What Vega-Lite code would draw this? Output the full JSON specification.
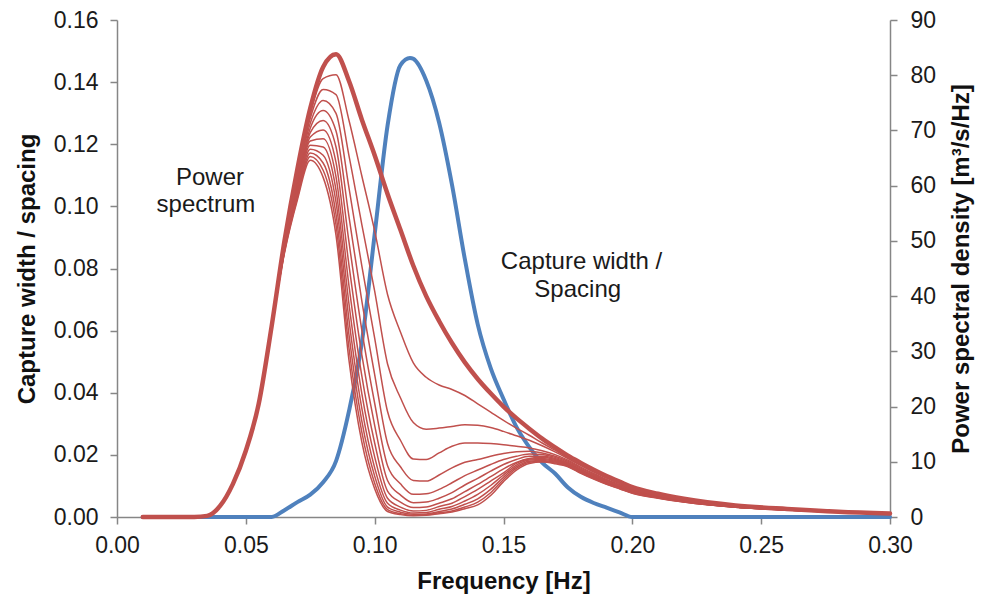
{
  "$schema": "https://vega.github.io/schema/vega-lite/v6.json",
  "width": 773,
  "height": 497,
  "autosize": "none",
  "padding": {"left": 117, "top": 20, "right": 101, "bottom": 81},
  "background": "white",
  "config": {
    "view": {"stroke": null},
    "font": "Liberation Sans",
    "axis": {
      "grid": false,
      "labelFlush": false,
      "domainColor": "#868686",
      "tickColor": "#868686",
      "domainWidth": 1.5,
      "tickWidth": 1.5,
      "tickSize": 7,
      "labelFont": "Liberation Sans",
      "labelFontSize": 23,
      "labelColor": "#1a1a1a",
      "titleFont": "Liberation Sans",
      "titleFontSize": 24,
      "titleFontWeight": "bold",
      "titleColor": "#111111"
    }
  },
  "datasets": {
    "cw": [
      {"f":0.01,"c":0},{"f":0.02,"c":0},{"f":0.03,"c":0},{"f":0.04,"c":0},{"f":0.05,"c":0},{"f":0.06,"c":0},
      {"f":0.065,"c":0.0022},{"f":0.07,"c":0.0048},{"f":0.075,"c":0.0072},{"f":0.08,"c":0.0112},{"f":0.085,"c":0.018},
      {"f":0.09,"c":0.034},{"f":0.095,"c":0.056},{"f":0.1,"c":0.091},{"f":0.105,"c":0.126},{"f":0.11,"c":0.1455},
      {"f":0.1137,"c":0.1478},{"f":0.115,"c":0.1475},{"f":0.12,"c":0.1405},{"f":0.125,"c":0.127},{"f":0.13,"c":0.107},
      {"f":0.135,"c":0.083},{"f":0.14,"c":0.062},{"f":0.145,"c":0.048},{"f":0.15,"c":0.038},{"f":0.155,"c":0.029},
      {"f":0.16,"c":0.0225},{"f":0.165,"c":0.0175},{"f":0.17,"c":0.014},{"f":0.175,"c":0.0095},{"f":0.18,"c":0.0065},
      {"f":0.185,"c":0.0045},{"f":0.19,"c":0.003},{"f":0.195,"c":0.0015},{"f":0.2,"c":0},{"f":0.25,"c":0},{"f":0.3,"c":0}
    ],
    "notes": [
      {"t":"Power","f":0.0361,"c":0.1069},
      {"t":"spectrum","f":0.0345,"c":0.0981},
      {"t":"Capture width /","f":0.1803,"c":0.0798},
      {"t":"Spacing","f":0.1788,"c":0.0709}
    ],
    "ps": [
      {"f":0.01,"s":0,"v":0},{"f":0.02,"s":0,"v":0},{"f":0.03,"s":0,"v":0},{"f":0.035,"s":0,"v":0.2},{"f":0.04,"s":0,"v":2.0},
      {"f":0.045,"s":0,"v":6.0},{"f":0.05,"s":0,"v":12.0},{"f":0.055,"s":0,"v":20.5},{"f":0.06,"s":0,"v":34.5},{"f":0.065,"s":0,"v":50.0},
      {"f":0.07,"s":0,"v":63.0},{"f":0.075,"s":0,"v":74.0},{"f":0.08,"s":0,"v":81.5},{"f":0.085,"s":0,"v":83.8},{"f":0.09,"s":0,"v":79.0},
      {"f":0.095,"s":0,"v":72.0},{"f":0.1,"s":0,"v":65.5},{"f":0.105,"s":0,"v":58.5},{"f":0.11,"s":0,"v":52.0},{"f":0.115,"s":0,"v":45.5},
      {"f":0.12,"s":0,"v":40.0},{"f":0.125,"s":0,"v":35.5},{"f":0.13,"s":0,"v":31.5},{"f":0.135,"s":0,"v":28.0},{"f":0.14,"s":0,"v":25.0},
      {"f":0.145,"s":0,"v":22.4},{"f":0.15,"s":0,"v":20.0},{"f":0.155,"s":0,"v":17.9},{"f":0.16,"s":0,"v":16.0},{"f":0.165,"s":0,"v":14.2},
      {"f":0.17,"s":0,"v":12.6},{"f":0.175,"s":0,"v":11.1},{"f":0.18,"s":0,"v":9.8},{"f":0.185,"s":0,"v":8.55},{"f":0.19,"s":0,"v":7.4},
      {"f":0.195,"s":0,"v":6.4},{"f":0.2,"s":0,"v":5.4},{"f":0.21,"s":0,"v":4.2},{"f":0.22,"s":0,"v":3.3},{"f":0.24,"s":0,"v":2.1},
      {"f":0.26,"s":0,"v":1.45},{"f":0.28,"s":0,"v":0.95},{"f":0.3,"s":0,"v":0.65},

      {"f":0.035,"s":1,"v":0.2},{"f":0.04,"s":1,"v":2.0},{"f":0.045,"s":1,"v":6.0},{"f":0.05,"s":1,"v":12.0},{"f":0.055,"s":1,"v":20.5},{"f":0.06,"s":1,"v":34.5},
      {"f":0.065,"s":1,"v":49.8},{"f":0.07,"s":1,"v":62.5},{"f":0.075,"s":1,"v":73.1},{"f":0.08,"s":1,"v":79.4},{"f":0.085,"s":1,"v":80.1},
      {"f":0.09,"s":1,"v":71.9},{"f":0.095,"s":1,"v":61.8},{"f":0.1,"s":1,"v":51.8},{"f":0.105,"s":1,"v":40.3},{"f":0.11,"s":1,"v":33.5},
      {"f":0.115,"s":1,"v":27.9},{"f":0.12,"s":1,"v":25.3},{"f":0.125,"s":1,"v":23.9},{"f":0.13,"s":1,"v":23.1},{"f":0.135,"s":1,"v":22.0},
      {"f":0.14,"s":1,"v":20.5},{"f":0.145,"s":1,"v":19.0},{"f":0.15,"s":1,"v":17.5},{"f":0.155,"s":1,"v":16.1},{"f":0.16,"s":1,"v":14.8},
      {"f":0.165,"s":1,"v":13.4},{"f":0.17,"s":1,"v":12.1},{"f":0.175,"s":1,"v":10.8},{"f":0.18,"s":1,"v":9.52},{"f":0.185,"s":1,"v":8.3},
      {"f":0.19,"s":1,"v":7.18},{"f":0.195,"s":1,"v":6.2},{"f":0.2,"s":1,"v":5.24},{"f":0.21,"s":1,"v":4.08},{"f":0.22,"s":1,"v":3.21},
      {"f":0.24,"s":1,"v":2.05},{"f":0.26,"s":1,"v":1.42},{"f":0.28,"s":1,"v":0.94},{"f":0.3,"s":1,"v":0.65},

      {"f":0.035,"s":2,"v":0.2},{"f":0.04,"s":2,"v":2.0},{"f":0.045,"s":2,"v":6.0},{"f":0.05,"s":2,"v":12.0},{"f":0.055,"s":2,"v":20.5},{"f":0.06,"s":2,"v":34.5},
      {"f":0.065,"s":2,"v":49.6},{"f":0.07,"s":2,"v":61.9},{"f":0.075,"s":2,"v":72.2},{"f":0.08,"s":2,"v":77.4},{"f":0.085,"s":2,"v":76.5},
      {"f":0.09,"s":2,"v":65.5},{"f":0.095,"s":2,"v":53.0},{"f":0.1,"s":2,"v":40.9},{"f":0.105,"s":2,"v":27.7},{"f":0.11,"s":2,"v":21.6},
      {"f":0.115,"s":2,"v":17.1},{"f":0.12,"s":2,"v":15.9},{"f":0.125,"s":2,"v":16.1},{"f":0.13,"s":2,"v":16.4},{"f":0.135,"s":2,"v":16.7},
      {"f":0.14,"s":2,"v":16.6},{"f":0.145,"s":2,"v":16.2},{"f":0.15,"s":2,"v":15.5},{"f":0.155,"s":2,"v":14.7},{"f":0.16,"s":2,"v":13.9},
      {"f":0.165,"s":2,"v":12.9},{"f":0.17,"s":2,"v":11.8},{"f":0.175,"s":2,"v":10.6},{"f":0.18,"s":2,"v":9.33},{"f":0.185,"s":2,"v":8.13},
      {"f":0.19,"s":2,"v":7.03},{"f":0.195,"s":2,"v":6.08},{"f":0.2,"s":2,"v":5.13},{"f":0.21,"s":2,"v":4.0},{"f":0.22,"s":2,"v":3.15},
      {"f":0.24,"s":2,"v":2.01},{"f":0.26,"s":2,"v":1.4},{"f":0.28,"s":2,"v":0.93},{"f":0.3,"s":2,"v":0.64},

      {"f":0.035,"s":3,"v":0.2},{"f":0.04,"s":3,"v":2.0},{"f":0.045,"s":3,"v":6.0},{"f":0.05,"s":3,"v":12.0},{"f":0.055,"s":3,"v":20.5},{"f":0.06,"s":3,"v":34.5},
      {"f":0.065,"s":3,"v":49.4},{"f":0.07,"s":3,"v":61.4},{"f":0.075,"s":3,"v":71.3},{"f":0.08,"s":3,"v":75.4},{"f":0.085,"s":3,"v":73.1},
      {"f":0.09,"s":3,"v":59.7},{"f":0.095,"s":3,"v":45.5},{"f":0.1,"s":3,"v":32.4},{"f":0.105,"s":3,"v":19.1},{"f":0.11,"s":3,"v":13.9},
      {"f":0.115,"s":3,"v":10.5},{"f":0.12,"s":3,"v":10.4},{"f":0.125,"s":3,"v":11.6},{"f":0.13,"s":3,"v":12.8},{"f":0.135,"s":3,"v":13.4},
      {"f":0.14,"s":3,"v":13.4},{"f":0.145,"s":3,"v":13.3},{"f":0.15,"s":3,"v":13.1},{"f":0.155,"s":3,"v":12.8},{"f":0.16,"s":3,"v":12.5},
      {"f":0.165,"s":3,"v":12.0},{"f":0.17,"s":3,"v":11.3},{"f":0.175,"s":3,"v":10.3},{"f":0.18,"s":3,"v":9.04},{"f":0.185,"s":3,"v":7.87},
      {"f":0.19,"s":3,"v":6.8},{"f":0.195,"s":3,"v":5.88},{"f":0.2,"s":3,"v":4.96},{"f":0.21,"s":3,"v":3.88},{"f":0.22,"s":3,"v":3.06},
      {"f":0.24,"s":3,"v":1.96},{"f":0.26,"s":3,"v":1.37},{"f":0.28,"s":3,"v":0.91},{"f":0.3,"s":3,"v":0.64},

      {"f":0.035,"s":4,"v":0.2},{"f":0.04,"s":4,"v":2.0},{"f":0.045,"s":4,"v":6.0},{"f":0.05,"s":4,"v":12.0},{"f":0.055,"s":4,"v":20.5},{"f":0.06,"s":4,"v":34.5},
      {"f":0.065,"s":4,"v":49.2},{"f":0.07,"s":4,"v":60.9},{"f":0.075,"s":4,"v":70.4},{"f":0.08,"s":4,"v":73.6},{"f":0.085,"s":4,"v":69.9},
      {"f":0.09,"s":4,"v":54.5},{"f":0.095,"s":4,"v":39.2},{"f":0.1,"s":4,"v":25.8},{"f":0.105,"s":4,"v":13.3},{"f":0.11,"s":4,"v":9.1},
      {"f":0.115,"s":4,"v":6.6},{"f":0.12,"s":4,"v":6.5},{"f":0.125,"s":4,"v":7.6},{"f":0.13,"s":4,"v":8.9},{"f":0.135,"s":4,"v":9.9},
      {"f":0.14,"s":4,"v":10.4},{"f":0.145,"s":4,"v":11.0},{"f":0.15,"s":4,"v":11.5},{"f":0.155,"s":4,"v":11.8},{"f":0.16,"s":4,"v":11.9},
      {"f":0.165,"s":4,"v":11.6},{"f":0.17,"s":4,"v":11.0},{"f":0.175,"s":4,"v":10.1},{"f":0.18,"s":4,"v":8.85},{"f":0.185,"s":4,"v":7.7},
      {"f":0.19,"s":4,"v":6.65},{"f":0.195,"s":4,"v":5.75},{"f":0.2,"s":4,"v":4.85},{"f":0.21,"s":4,"v":3.8},{"f":0.22,"s":4,"v":3.0},
      {"f":0.24,"s":4,"v":1.93},{"f":0.26,"s":4,"v":1.35},{"f":0.28,"s":4,"v":0.9},{"f":0.3,"s":4,"v":0.64},

      {"f":0.035,"s":5,"v":0.2},{"f":0.04,"s":5,"v":2.0},{"f":0.045,"s":5,"v":6.0},{"f":0.05,"s":5,"v":12.0},{"f":0.055,"s":5,"v":20.5},{"f":0.06,"s":5,"v":34.5},
      {"f":0.065,"s":5,"v":49.0},{"f":0.07,"s":5,"v":60.4},{"f":0.075,"s":5,"v":69.6},{"f":0.08,"s":5,"v":71.8},{"f":0.085,"s":5,"v":67.0},
      {"f":0.09,"s":5,"v":49.9},{"f":0.095,"s":5,"v":33.9},{"f":0.1,"s":5,"v":20.6},{"f":0.105,"s":5,"v":9.3},{"f":0.11,"s":5,"v":6.0},
      {"f":0.115,"s":5,"v":4.1},{"f":0.12,"s":5,"v":4.2},{"f":0.125,"s":5,"v":5.0},{"f":0.13,"s":5,"v":6.2},{"f":0.135,"s":5,"v":7.5},
      {"f":0.14,"s":5,"v":8.5},{"f":0.145,"s":5,"v":9.5},{"f":0.15,"s":5,"v":10.4},{"f":0.155,"s":5,"v":11.0},{"f":0.16,"s":5,"v":11.4},
      {"f":0.165,"s":5,"v":11.3},{"f":0.17,"s":5,"v":10.8},{"f":0.175,"s":5,"v":9.9},{"f":0.18,"s":5,"v":8.66},{"f":0.185,"s":5,"v":7.53},
      {"f":0.19,"s":5,"v":6.5},{"f":0.195,"s":5,"v":5.62},{"f":0.2,"s":5,"v":4.74},{"f":0.21,"s":5,"v":3.72},{"f":0.22,"s":5,"v":2.94},
      {"f":0.24,"s":5,"v":1.89},{"f":0.26,"s":5,"v":1.33},{"f":0.28,"s":5,"v":0.89},{"f":0.3,"s":5,"v":0.63},

      {"f":0.035,"s":6,"v":0.2},{"f":0.04,"s":6,"v":2.0},{"f":0.045,"s":6,"v":6.0},{"f":0.05,"s":6,"v":12.0},{"f":0.055,"s":6,"v":20.5},{"f":0.06,"s":6,"v":34.5},
      {"f":0.065,"s":6,"v":48.8},{"f":0.07,"s":6,"v":59.9},{"f":0.075,"s":6,"v":68.8},{"f":0.08,"s":6,"v":70.1},{"f":0.085,"s":6,"v":64.2},
      {"f":0.09,"s":6,"v":45.7},{"f":0.095,"s":6,"v":29.4},{"f":0.1,"s":6,"v":16.6},{"f":0.105,"s":6,"v":6.6},{"f":0.11,"s":6,"v":4.0},
      {"f":0.115,"s":6,"v":2.6},{"f":0.12,"s":6,"v":2.7},{"f":0.125,"s":6,"v":3.4},{"f":0.13,"s":6,"v":4.4},{"f":0.135,"s":6,"v":5.8},
      {"f":0.14,"s":6,"v":7.0},{"f":0.145,"s":6,"v":8.3},{"f":0.15,"s":6,"v":9.5},{"f":0.155,"s":6,"v":10.4},{"f":0.16,"s":6,"v":11.0},
      {"f":0.165,"s":6,"v":11.0},{"f":0.17,"s":6,"v":10.6},{"f":0.175,"s":6,"v":9.75},{"f":0.18,"s":6,"v":8.52},{"f":0.185,"s":6,"v":7.4},
      {"f":0.19,"s":6,"v":6.39},{"f":0.195,"s":6,"v":5.52},{"f":0.2,"s":6,"v":4.66},{"f":0.21,"s":6,"v":3.66},{"f":0.22,"s":6,"v":2.9},
      {"f":0.24,"s":6,"v":1.86},{"f":0.26,"s":6,"v":1.32},{"f":0.28,"s":6,"v":0.88},{"f":0.3,"s":6,"v":0.63},

      {"f":0.035,"s":7,"v":0.2},{"f":0.04,"s":7,"v":2.0},{"f":0.045,"s":7,"v":6.0},{"f":0.05,"s":7,"v":12.0},{"f":0.055,"s":7,"v":20.5},{"f":0.06,"s":7,"v":34.5},
      {"f":0.065,"s":7,"v":48.7},{"f":0.07,"s":7,"v":59.5},{"f":0.075,"s":7,"v":68.1},{"f":0.08,"s":7,"v":68.5},{"f":0.085,"s":7,"v":61.6},
      {"f":0.09,"s":7,"v":42.0},{"f":0.095,"s":7,"v":25.6},{"f":0.1,"s":7,"v":13.4},{"f":0.105,"s":7,"v":4.7},{"f":0.11,"s":7,"v":2.7},
      {"f":0.115,"s":7,"v":1.7},{"f":0.12,"s":7,"v":1.8},{"f":0.125,"s":7,"v":2.5},{"f":0.13,"s":7,"v":3.3},{"f":0.135,"s":7,"v":4.6},
      {"f":0.14,"s":7,"v":5.9},{"f":0.145,"s":7,"v":7.3},{"f":0.15,"s":7,"v":8.7},{"f":0.155,"s":7,"v":9.9},{"f":0.16,"s":7,"v":10.6},
      {"f":0.165,"s":7,"v":10.8},{"f":0.17,"s":7,"v":10.4},{"f":0.175,"s":7,"v":9.6},{"f":0.18,"s":7,"v":8.38},{"f":0.185,"s":7,"v":7.28},
      {"f":0.19,"s":7,"v":6.28},{"f":0.195,"s":7,"v":5.43},{"f":0.2,"s":7,"v":4.58},{"f":0.21,"s":7,"v":3.6},{"f":0.22,"s":7,"v":2.85},
      {"f":0.24,"s":7,"v":1.84},{"f":0.26,"s":7,"v":1.3},{"f":0.28,"s":7,"v":0.88},{"f":0.3,"s":7,"v":0.63},

      {"f":0.035,"s":8,"v":0.2},{"f":0.04,"s":8,"v":2.0},{"f":0.045,"s":8,"v":6.0},{"f":0.05,"s":8,"v":12.0},{"f":0.055,"s":8,"v":20.5},{"f":0.06,"s":8,"v":34.5},
      {"f":0.065,"s":8,"v":48.5},{"f":0.07,"s":8,"v":59.0},{"f":0.075,"s":8,"v":67.3},{"f":0.08,"s":8,"v":67.0},{"f":0.085,"s":8,"v":59.2},
      {"f":0.09,"s":8,"v":38.7},{"f":0.095,"s":8,"v":22.4},{"f":0.1,"s":8,"v":10.9},{"f":0.105,"s":8,"v":3.4},{"f":0.11,"s":8,"v":1.8},
      {"f":0.115,"s":8,"v":1.1},{"f":0.12,"s":8,"v":1.2},{"f":0.125,"s":8,"v":1.9},{"f":0.13,"s":8,"v":2.5},{"f":0.135,"s":8,"v":3.7},
      {"f":0.14,"s":8,"v":5.0},{"f":0.145,"s":8,"v":6.5},{"f":0.15,"s":8,"v":8.0},{"f":0.155,"s":8,"v":9.7},{"f":0.16,"s":8,"v":10.5},
      {"f":0.165,"s":8,"v":10.6},{"f":0.17,"s":8,"v":10.25},{"f":0.175,"s":8,"v":9.5},{"f":0.18,"s":8,"v":8.28},{"f":0.185,"s":8,"v":7.19},
      {"f":0.19,"s":8,"v":6.2},{"f":0.195,"s":8,"v":5.36},{"f":0.2,"s":8,"v":4.52},{"f":0.21,"s":8,"v":3.56},{"f":0.22,"s":8,"v":2.82},
      {"f":0.24,"s":8,"v":1.82},{"f":0.26,"s":8,"v":1.29},{"f":0.28,"s":8,"v":0.87},{"f":0.3,"s":8,"v":0.63},

      {"f":0.035,"s":9,"v":0.2},{"f":0.04,"s":9,"v":2.0},{"f":0.045,"s":9,"v":6.0},{"f":0.05,"s":9,"v":12.0},{"f":0.055,"s":9,"v":20.5},{"f":0.06,"s":9,"v":34.5},
      {"f":0.065,"s":9,"v":48.3},{"f":0.07,"s":9,"v":58.6},{"f":0.075,"s":9,"v":66.6},{"f":0.08,"s":9,"v":65.5},{"f":0.085,"s":9,"v":57.0},
      {"f":0.09,"s":9,"v":35.8},{"f":0.095,"s":9,"v":19.7},{"f":0.1,"s":9,"v":8.9},{"f":0.105,"s":9,"v":2.5},{"f":0.11,"s":9,"v":1.25},
      {"f":0.115,"s":9,"v":0.73},{"f":0.12,"s":9,"v":0.8},{"f":0.125,"s":9,"v":1.4},{"f":0.13,"s":9,"v":1.9},{"f":0.135,"s":9,"v":2.9},
      {"f":0.14,"s":9,"v":4.1},{"f":0.145,"s":9,"v":5.7},{"f":0.15,"s":9,"v":7.6},{"f":0.155,"s":9,"v":9.4},{"f":0.16,"s":9,"v":10.3},
      {"f":0.165,"s":9,"v":10.4},{"f":0.17,"s":9,"v":10.1},{"f":0.175,"s":9,"v":9.4},{"f":0.18,"s":9,"v":8.19},{"f":0.185,"s":9,"v":7.11},
      {"f":0.19,"s":9,"v":6.13},{"f":0.195,"s":9,"v":5.3},{"f":0.2,"s":9,"v":4.47},{"f":0.21,"s":9,"v":3.52},{"f":0.22,"s":9,"v":2.79},
      {"f":0.24,"s":9,"v":1.8},{"f":0.26,"s":9,"v":1.28},{"f":0.28,"s":9,"v":0.87},{"f":0.3,"s":9,"v":0.62},

      {"f":0.035,"s":10,"v":0.2},{"f":0.04,"s":10,"v":2.0},{"f":0.045,"s":10,"v":6.0},{"f":0.05,"s":10,"v":12.0},{"f":0.055,"s":10,"v":20.5},{"f":0.06,"s":10,"v":34.5},
      {"f":0.065,"s":10,"v":48.2},{"f":0.07,"s":10,"v":58.2},{"f":0.075,"s":10,"v":65.9},{"f":0.08,"s":10,"v":64.1},{"f":0.085,"s":10,"v":54.8},
      {"f":0.09,"s":10,"v":33.1},{"f":0.095,"s":10,"v":17.4},{"f":0.1,"s":10,"v":7.4},{"f":0.105,"s":10,"v":1.8},{"f":0.11,"s":10,"v":0.87},
      {"f":0.115,"s":10,"v":0.49},{"f":0.12,"s":10,"v":0.55},{"f":0.125,"s":10,"v":1.0},{"f":0.13,"s":10,"v":1.45},{"f":0.135,"s":10,"v":2.3},
      {"f":0.14,"s":10,"v":3.3},{"f":0.145,"s":10,"v":5.0},{"f":0.15,"s":10,"v":7.2},{"f":0.155,"s":10,"v":9.1},{"f":0.16,"s":10,"v":10.1},
      {"f":0.165,"s":10,"v":10.25},{"f":0.17,"s":10,"v":9.95},{"f":0.175,"s":10,"v":9.3},{"f":0.18,"s":10,"v":8.09},{"f":0.185,"s":10,"v":7.02},
      {"f":0.19,"s":10,"v":6.05},{"f":0.195,"s":10,"v":5.23},{"f":0.2,"s":10,"v":4.41},{"f":0.21,"s":10,"v":3.48},{"f":0.22,"s":10,"v":2.76},
      {"f":0.24,"s":10,"v":1.79},{"f":0.26,"s":10,"v":1.27},{"f":0.28,"s":10,"v":0.86},{"f":0.3,"s":10,"v":0.62},

      {"f":0.035,"s":11,"v":0.2},{"f":0.04,"s":11,"v":2.0},{"f":0.045,"s":11,"v":6.0},{"f":0.05,"s":11,"v":12.0},{"f":0.055,"s":11,"v":20.5},{"f":0.06,"s":11,"v":34.5},
      {"f":0.065,"s":11,"v":48.0},{"f":0.07,"s":11,"v":57.8},{"f":0.075,"s":11,"v":65.3},{"f":0.08,"s":11,"v":62.8},{"f":0.085,"s":11,"v":52.9},
      {"f":0.09,"s":11,"v":30.7},{"f":0.095,"s":11,"v":15.4},{"f":0.1,"s":11,"v":6.1},{"f":0.105,"s":11,"v":1.35},{"f":0.11,"s":11,"v":0.61},
      {"f":0.115,"s":11,"v":0.33},{"f":0.12,"s":11,"v":0.4},{"f":0.125,"s":11,"v":0.75},{"f":0.13,"s":11,"v":1.1},{"f":0.135,"s":11,"v":1.8},
      {"f":0.14,"s":11,"v":2.7},{"f":0.145,"s":11,"v":4.4},{"f":0.15,"s":11,"v":6.8},{"f":0.155,"s":11,"v":8.8},{"f":0.16,"s":11,"v":9.9},
      {"f":0.165,"s":11,"v":10.1},{"f":0.17,"s":11,"v":9.8},{"f":0.175,"s":11,"v":9.2},{"f":0.18,"s":11,"v":8.0},{"f":0.185,"s":11,"v":6.94},
      {"f":0.19,"s":11,"v":5.98},{"f":0.195,"s":11,"v":5.17},{"f":0.2,"s":11,"v":4.36},{"f":0.21,"s":11,"v":3.44},{"f":0.22,"s":11,"v":2.73},
      {"f":0.24,"s":11,"v":1.77},{"f":0.26,"s":11,"v":1.26},{"f":0.28,"s":11,"v":0.86},{"f":0.3,"s":11,"v":0.62},

      {"f":0.035,"s":12,"v":0.2},{"f":0.04,"s":12,"v":2.0},{"f":0.045,"s":12,"v":6.0},{"f":0.05,"s":12,"v":12.0},{"f":0.055,"s":12,"v":20.5},{"f":0.06,"s":12,"v":34.5},
      {"f":0.065,"s":12,"v":47.8},{"f":0.07,"s":12,"v":57.4},{"f":0.075,"s":12,"v":64.6},{"f":0.08,"s":12,"v":61.5},{"f":0.085,"s":12,"v":51.0},
      {"f":0.09,"s":12,"v":28.5},{"f":0.095,"s":12,"v":13.6},{"f":0.1,"s":12,"v":5.1},{"f":0.105,"s":12,"v":1.0},{"f":0.11,"s":12,"v":0.43},
      {"f":0.115,"s":12,"v":0.22},{"f":0.12,"s":12,"v":0.3},{"f":0.125,"s":12,"v":0.6},{"f":0.13,"s":12,"v":0.9},{"f":0.135,"s":12,"v":1.5},
      {"f":0.14,"s":12,"v":2.2},{"f":0.145,"s":12,"v":3.9},{"f":0.15,"s":12,"v":6.4},{"f":0.155,"s":12,"v":8.5},{"f":0.16,"s":12,"v":9.7},
      {"f":0.165,"s":12,"v":9.95},{"f":0.17,"s":12,"v":9.65},{"f":0.175,"s":12,"v":9.1},{"f":0.18,"s":12,"v":7.9},{"f":0.185,"s":12,"v":6.85},
      {"f":0.19,"s":12,"v":5.9},{"f":0.195,"s":12,"v":5.1},{"f":0.2,"s":12,"v":4.3},{"f":0.21,"s":12,"v":3.4},{"f":0.22,"s":12,"v":2.7},
      {"f":0.24,"s":12,"v":1.75},{"f":0.26,"s":12,"v":1.25},{"f":0.28,"s":12,"v":0.85},{"f":0.3,"s":12,"v":0.62}
    ]
  },
  "layer": [
    {
      "layer": [
        {
          "data": {"name": "cw"},
          "mark": {"type": "line", "color": "#4F81BD", "strokeWidth": 4, "interpolate": "monotone", "strokeJoin": "round", "strokeCap": "round"},
          "encoding": {
            "x": {"field": "f", "type": "quantitative", "scale": {"domain": [0, 0.3], "nice": false},
                  "axis": {"title": "Frequency [Hz]", "values": [0, 0.05, 0.1, 0.15, 0.2, 0.25, 0.3], "format": ".2f", "labelPadding": 10, "titlePadding": 12}},
            "y": {"field": "c", "type": "quantitative", "scale": {"domain": [0, 0.16], "nice": false},
                  "axis": {"title": "Capture width / spacing", "orient": "left", "values": [0, 0.02, 0.04, 0.06, 0.08, 0.1, 0.12, 0.14, 0.16], "format": ".2f", "labelPadding": 12, "titlePadding": 14}}
          }
        },
        {
          "data": {"name": "notes"},
          "mark": {"type": "text", "font": "Liberation Sans", "fontSize": 24, "color": "#1a1a1a", "align": "center", "baseline": "alphabetic"},
          "encoding": {
            "x": {"field": "f", "type": "quantitative"},
            "y": {"field": "c", "type": "quantitative"},
            "text": {"field": "t", "type": "nominal"}
          }
        }
      ]
    },
    {
      "layer": [
        {
          "data": {"name": "ps"},
          "transform": [{"filter": "datum.s > 0"}],
          "mark": {"type": "line", "color": "#C0504D", "strokeWidth": 1.5, "interpolate": "monotone"},
          "encoding": {
            "x": {"field": "f", "type": "quantitative"},
            "y": {"field": "v", "type": "quantitative", "scale": {"domain": [0, 90], "nice": false},
                  "axis": {"title": "Power spectral density [m³/s/Hz]", "orient": "right", "values": [0, 10, 20, 30, 40, 50, 60, 70, 80, 90], "format": "d", "labelPadding": 13, "titlePadding": 14, "titleAngle": 270, "titleBaseline": "top"}},
            "detail": {"field": "s", "type": "nominal"}
          }
        },
        {
          "data": {"name": "ps"},
          "transform": [{"filter": "datum.s == 0"}],
          "mark": {"type": "line", "color": "#C0504D", "strokeWidth": 4.5, "interpolate": "monotone", "strokeJoin": "round", "strokeCap": "round"},
          "encoding": {
            "x": {"field": "f", "type": "quantitative"},
            "y": {"field": "v", "type": "quantitative"}
          }
        }
      ]
    }
  ],
  "resolve": {"scale": {"y": "independent"}}
}
